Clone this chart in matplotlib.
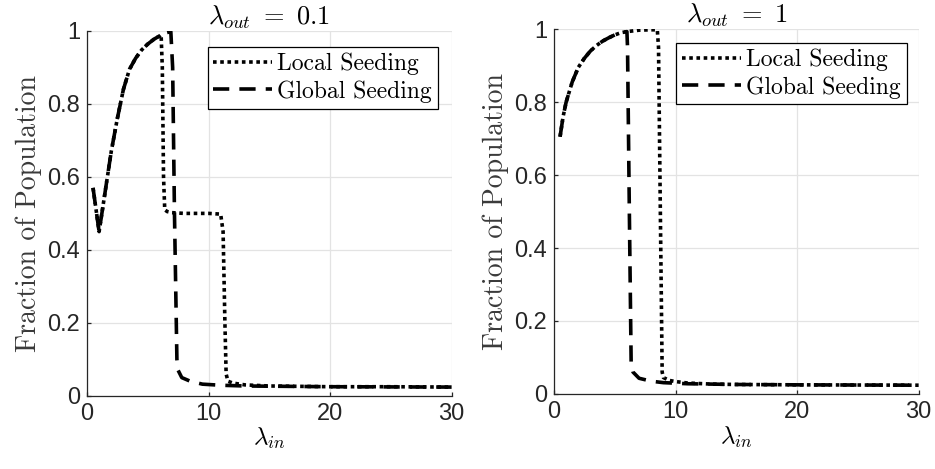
import matplotlib
matplotlib.use('Agg')
import matplotlib.pyplot as plt
from matplotlib.ticker import FuncFormatter

# lambda_out = 0.1
lam_local_a = [0.5, 1.0, 1.5, 2.0, 2.5, 3.0, 3.5, 4.0, 4.5, 5.0, 5.5, 6.0, 6.1, 6.2, 6.3, 6.4,
               6.6, 7.0, 8.0, 9.0, 10.0, 11.0, 11.2, 11.35, 11.45, 11.6, 12.0, 13.0, 15.0, 20.0, 25.0, 30.0]
frac_local_a = [0.57, 0.45, 0.56, 0.67, 0.76, 0.84, 0.895, 0.925, 0.948, 0.964, 0.977, 0.987, 0.99, 0.9,
                0.6, 0.51, 0.505, 0.502, 0.5, 0.5, 0.5, 0.498, 0.45, 0.2, 0.06, 0.04, 0.035, 0.03,
                0.027, 0.025, 0.025, 0.024]
lam_global_a = [0.5, 1.0, 1.5, 2.0, 2.5, 3.0, 3.5, 4.0, 4.5, 5.0, 5.5, 6.0, 6.5, 6.9, 7.05, 7.2,
                7.4, 7.5, 7.8, 8.5, 9.5, 11.0, 13.0, 20.0, 30.0]
frac_global_a = [0.57, 0.45, 0.56, 0.67, 0.76, 0.84, 0.895, 0.925, 0.948, 0.964, 0.977, 0.987, 0.995,
                 0.998, 0.9, 0.5, 0.1, 0.07, 0.05, 0.04, 0.032, 0.029, 0.027, 0.025, 0.024]

# lambda_out = 1
lam_local_b = [0.5, 0.75, 1.0, 1.5, 2.0, 2.5, 3.0, 3.5, 4.0, 4.5, 5.0, 5.5, 6.0, 7.0, 8.0, 8.5,
               8.6, 8.75, 8.9, 9.0, 9.5, 10.0, 11.0, 13.0, 15.0, 20.0, 30.0]
frac_local_b = [0.705, 0.76, 0.80, 0.855, 0.895, 0.92, 0.94, 0.955, 0.967, 0.976, 0.984, 0.99, 0.993,
                0.997, 0.998, 0.998, 0.95, 0.5, 0.06, 0.045, 0.037, 0.034, 0.03, 0.027, 0.026, 0.025, 0.024]
lam_global_b = [0.5, 0.75, 1.0, 1.5, 2.0, 2.5, 3.0, 3.5, 4.0, 4.5, 5.0, 5.5, 6.0, 6.05, 6.2, 6.35,
                6.5, 7.0, 8.0, 9.0, 11.0, 15.0, 20.0, 30.0]
frac_global_b = [0.705, 0.76, 0.80, 0.855, 0.895, 0.92, 0.94, 0.955, 0.967, 0.976, 0.984, 0.99, 0.993,
                 0.95, 0.5, 0.08, 0.06, 0.043, 0.035, 0.031, 0.028, 0.026, 0.025, 0.024]

titles = [r'$\lambda_{out}\ =\ 0.1$', r'$\lambda_{out}\ =\ 1$']
series_labels = ['Local Seeding', 'Global Seeding']

plt.rcParams['mathtext.fontset'] = 'cm'
plt.rcParams['axes.unicode_minus'] = False

fig = plt.figure(figsize=(9.35, 4.69), dpi=100)
ax_a = fig.add_axes([0.093, 0.156, 0.390, 0.778])
ax_b = fig.add_axes([0.5925, 0.160, 0.390, 0.778])

panels = [
    (ax_a, lam_local_a, frac_local_a, lam_global_a, frac_global_a, titles[0], (0.962, 0.956)),
    (ax_b, lam_local_b, frac_local_b, lam_global_b, frac_global_b, titles[1], (0.967, 0.962)),
]

ink = '#262626'
for ax, xl, yl, xg, yg, title, anchor in panels:
    ax.plot(xl, yl, color='black', linestyle=(0, (1, 1)), linewidth=2.6, label=series_labels[0])
    ax.plot(xg, yg, color='black', linestyle=(0, (4.5, 2.8)), linewidth=2.6, label=series_labels[1])
    ax.set_xlim(0, 30)
    ax.set_ylim(0, 1)
    ax.set_xticks([0, 10, 20, 30])
    ax.set_yticks([0, 0.2, 0.4, 0.6, 0.8, 1.0])
    ax.yaxis.set_major_formatter(FuncFormatter(lambda v, p: '%g' % round(v, 1)))
    ax.grid(True, color='#e3e3e3', linewidth=0.9)
    ax.set_axisbelow(True)
    for side in ['top', 'right']:
        ax.spines[side].set_visible(False)
    for side in ['left', 'bottom']:
        ax.spines[side].set_color(ink)
        ax.spines[side].set_linewidth(0.9)
    ax.tick_params(direction='in', length=3, width=0.9, colors=ink, labelsize=17, pad=5)
    for lbl in ax.get_xticklabels() + ax.get_yticklabels():
        lbl.set_family('Liberation Sans')
    ax.set_title(title, fontsize=19, pad=3)
    ax.set_xlabel(r'$\lambda_{in}$', fontsize=18, labelpad=1)
    ax.set_ylabel('Fraction of Population', family='cmr10', fontsize=20, color='#3a3a3a', labelpad=4)
    leg = ax.legend(loc='upper right', bbox_to_anchor=anchor, prop={'family': 'cmr10', 'size': 17},
                    frameon=True, fancybox=False, framealpha=1, edgecolor='black',
                    handlelength=2.5, handletextpad=0.2, borderpad=0.25, labelspacing=0.2,
                    borderaxespad=0)
    leg.get_frame().set_linewidth(0.9)

fig.savefig('out.png', dpi=100)
